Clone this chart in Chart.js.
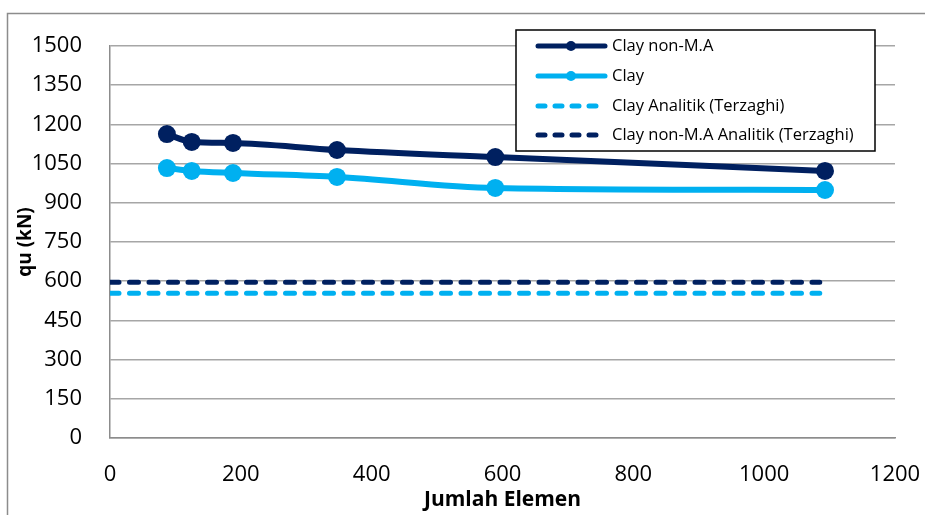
<!DOCTYPE html>
<html>
<head>
<meta charset="utf-8">
<script src="https://cdn.jsdelivr.net/npm/chart.js@4"></script>
<style>
  html, body { margin: 0; padding: 0; background: #fff; }
  #wrap { width: 925px; height: 515px; position: relative; }
</style>
</head>
<body>
<div id="wrap"><canvas id="quChart"></canvas></div>
<script>
// values
const jumlahElemen = [87, 125, 188, 347, 589, 1093];
const quClayNonMA = [1163, 1133, 1129, 1102, 1075, 1022];
const quClay = [1033, 1022, 1014, 999, 957, 949];
const analitikX = [0, 1085];
const quClayAnalitik = [554, 554];
const quClayNonMAAnalitik = [596, 596];

const seriesLabels = ['Clay non-M.A', 'Clay', 'Clay Analitik (Terzaghi)', 'Clay non-M.A Analitik (Terzaghi)'];
const xTitle = 'Jumlah Elemen';
const yTitle = 'qu (kN)';

const navy = '#002060';
const sky = '#00B0F0';

const toPoints = (xs, ys) => xs.map((x, i) => ({ x, y: ys[i] }));

Chart.defaults.font.family = "'Open Sans', sans-serif";
Chart.defaults.color = '#000';

// gray frame around the chart (top and left edges visible)
const framePlugin = {
  id: 'frame',
  beforeDraw(chart) {
    const ctx = chart.ctx;
    ctx.save();
    ctx.strokeStyle = '#8c8c8c';
    ctx.lineWidth = 1.5;
    ctx.beginPath();
    ctx.moveTo(7.5, 515);
    ctx.lineTo(7.5, 13.5);
    ctx.lineTo(925, 13.5);
    ctx.stroke();
    ctx.restore();
  }
};

// boxed legend inside the plot, like the spreadsheet one
const boxLegend = {
  id: 'boxLegend',
  afterDraw(chart) {
    const ctx = chart.ctx;
    const box = { x: 516, y: 30, w: 359, h: 121 };
    ctx.save();
    ctx.fillStyle = '#fff';
    ctx.fillRect(box.x, box.y, box.w, box.h);
    ctx.strokeStyle = '#000';
    ctx.lineWidth = 1.5;
    ctx.strokeRect(box.x, box.y, box.w, box.h);
    const rows = [46, 76, 106, 135];
    chart.data.datasets.forEach((ds, i) => {
      const y = rows[i];
      ctx.strokeStyle = ds.borderColor;
      ctx.lineWidth = 5;
      ctx.lineCap = 'round';
      ctx.setLineDash(ds.borderDash ? [7, 10] : []);
      ctx.beginPath();
      ctx.moveTo(538, y);
      ctx.lineTo(605, y);
      ctx.stroke();
      ctx.setLineDash([]);
      if (ds.pointRadius) {
        ctx.fillStyle = ds.borderColor;
        ctx.beginPath();
        ctx.arc(571, y, 5, 0, Math.PI * 2);
        ctx.fill();
      }
      ctx.fillStyle = '#000';
      ctx.font = "16.5px 'Open Sans', sans-serif";
      ctx.textBaseline = 'middle';
      ctx.fillText(ds.label, 612, y);
    });
    ctx.restore();
  }
};

new Chart(document.getElementById('quChart'), {
  type: 'scatter',
  data: {
    datasets: [
      {
        label: seriesLabels[0],
        data: toPoints(jumlahElemen, quClayNonMA),
        showLine: true,
        borderColor: navy,
        backgroundColor: navy,
        borderWidth: 6,
        pointRadius: 9,
        pointBorderWidth: 0,
        cubicInterpolationMode: 'monotone'
      },
      {
        label: seriesLabels[1],
        data: toPoints(jumlahElemen, quClay),
        showLine: true,
        borderColor: sky,
        backgroundColor: sky,
        borderWidth: 6,
        pointRadius: 9,
        pointBorderWidth: 0,
        cubicInterpolationMode: 'monotone'
      },
      {
        label: seriesLabels[2],
        data: toPoints(analitikX, quClayAnalitik),
        showLine: true,
        borderColor: sky,
        backgroundColor: sky,
        borderWidth: 5,
        borderDash: [9, 10.5],
        borderCapStyle: 'round',
        pointRadius: 0
      },
      {
        label: seriesLabels[3],
        data: toPoints(analitikX, quClayNonMAAnalitik),
        showLine: true,
        borderColor: navy,
        backgroundColor: navy,
        borderWidth: 5,
        borderDash: [9, 10.5],
        borderCapStyle: 'round',
        pointRadius: 0
      }
    ]
  },
  options: {
    responsive: true,
    maintainAspectRatio: false,
    animation: false,
    layout: { padding: { top: 46, right: 30, left: 0, bottom: 0 } },
    plugins: {
      legend: { display: false },
      tooltip: { enabled: false }
    },
    scales: {
      x: {
        type: 'linear',
        min: 0,
        max: 1200,
        ticks: { stepSize: 200, padding: 16, font: { size: 22 }, callback: v => String(v) },
        grid: { display: false },
        border: { display: true, color: '#8c8c8c', width: 1.5 },
        title: {
          display: true,
          text: xTitle,
          font: { size: 21, weight: 'bold' },
          padding: { top: 0, bottom: 2 }
        },
        afterFit(scale) {
          scale.height = 77;
          scale.paddingLeft = 0;
          scale.paddingRight = 0;
        }
      },
      y: {
        min: 0,
        max: 1500,
        ticks: { stepSize: 150, padding: 28, font: { size: 22 }, callback: v => String(v) },
        grid: { color: '#a6a6a6', lineWidth: 1.5, drawTicks: false },
        border: { display: true, color: '#8c8c8c', width: 1.5 },
        title: {
          display: true,
          text: yTitle,
          font: { size: 19, weight: 'bold' },
          padding: { top: 14, bottom: 0 }
        },
        afterFit(scale) {
          scale.width = 110;
          scale.paddingTop = 0;
          scale.paddingBottom = 0;
        }
      }
    }
  },
  plugins: [framePlugin, boxLegend]
});
</script>
</body>
</html>
